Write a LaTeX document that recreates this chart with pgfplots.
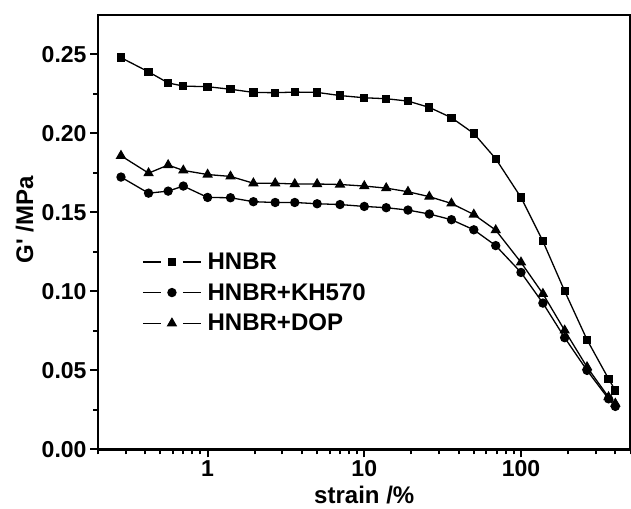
\documentclass[border=0pt]{standalone}
\usepackage{fontspec}
\setmainfont{Liberation Sans}
\usepackage{pgfplots}
\pgfplotsset{compat=1.18}

\pgfplotstableread{
x      hnbr    kh      dop
0.28   0.2480  0.1724  0.1859
0.42   0.2390  0.1622  0.1749
0.56   0.2320  0.1635  0.1800
0.70   0.2300  0.1667  0.1766
1.0    0.2296  0.1595  0.1740
1.4    0.2280  0.1593  0.1728
1.96   0.2260  0.1568  0.1685
2.7    0.2258  0.1563  0.1685
3.6    0.2262  0.1563  0.1680
5.0    0.2260  0.1555  0.1680
7.0    0.2240  0.1550  0.1677
10     0.2226  0.1538  0.1667
13.8   0.2220  0.1530  0.1654
19     0.2205  0.1515  0.1631
26     0.2165  0.1490  0.1600
36     0.2100  0.1454  0.1557
50     0.2000  0.1390  0.1487
69     0.1840  0.1290  0.1388
100    0.1595  0.1120  0.1184
138    0.1318  0.0926  0.0985
190    0.1002  0.0707  0.0753
264    0.0694  0.0500  0.0521
362    0.0447  0.0320  0.0331
400    0.0373  0.0272  0.0290
}\datatable

\begin{document}
\begin{tikzpicture}
\begin{axis}[
    name=ax,
    scale only axis,
    width=532pt, height=434pt,
    xmode=log,
    xmin=0.2, xmax=500,
    ymin=0, ymax=0.275,
    xtick={1,10,100},
    xticklabels={1,10,100},
    minor xtick={0.2,0.3,0.4,0.5,0.6,0.7,0.8,0.9,2,3,4,5,6,7,8,9,20,30,40,50,60,70,80,90,200,300,400,500},
    ytick={0,0.05,0.10,0.15,0.20,0.25},
    minor ytick={0.025,0.075,0.125,0.175,0.225},
    yticklabel style={/pgf/number format/.cd,fixed,fixed zerofill,precision=2},
    /pgf/number format/assume math mode=true,
    ticklabel style={font=\fontsize{23}{27}\selectfont\bfseries},
    xtick pos=bottom, ytick pos=left,
    tick align=outside,
    major tick length=8pt, minor tick length=5pt,
    tick style={line width=2pt, black},
    axis line style={line width=2.5pt, black},
    xlabel={strain /\%},
    ylabel={G\textquotesingle{} /MPa},
    label style={font=\fontsize{24}{28}\selectfont\bfseries},
    xlabel style={at={(axis description cs:0.5,-0.124)}, anchor=base},
    ylabel style={at={(axis description cs:-0.122,0.528)}, anchor=base},
    legend style={at={(0.077,0.462)}, anchor=north west, draw=none, fill=none,
        font=\fontsize{24}{28}\selectfont\bfseries, row sep=8.5pt},
    legend cell align=left,
    legend image code/.code={
        \draw[#1, mark=none] (0pt,0pt) -- (18pt,0pt);
        \draw[#1, mark=none] (40pt,0pt) -- (58pt,0pt);
        \draw[#1] plot coordinates {(29pt,0pt)};
        \path (62pt,0pt);
    },
    every axis plot/.append style={line width=1.3pt, black},
]
\addplot[mark=square*, mark size=3.5pt] table[x=x, y=hnbr] {\datatable};
\addplot[mark=*, mark size=4pt] table[x=x, y=kh] {\datatable};
\addplot[mark=triangle*, mark size=4.8pt] table[x=x, y=dop] {\datatable};
\legend{HNBR, HNBR+KH570, HNBR+DOP}
\end{axis}
\pgfresetboundingbox
\useasboundingbox ([xshift=-98pt,yshift=-59pt]ax.south west) rectangle ([xshift=0.5pt,yshift=15pt]ax.north east);
\end{tikzpicture}
\end{document}
